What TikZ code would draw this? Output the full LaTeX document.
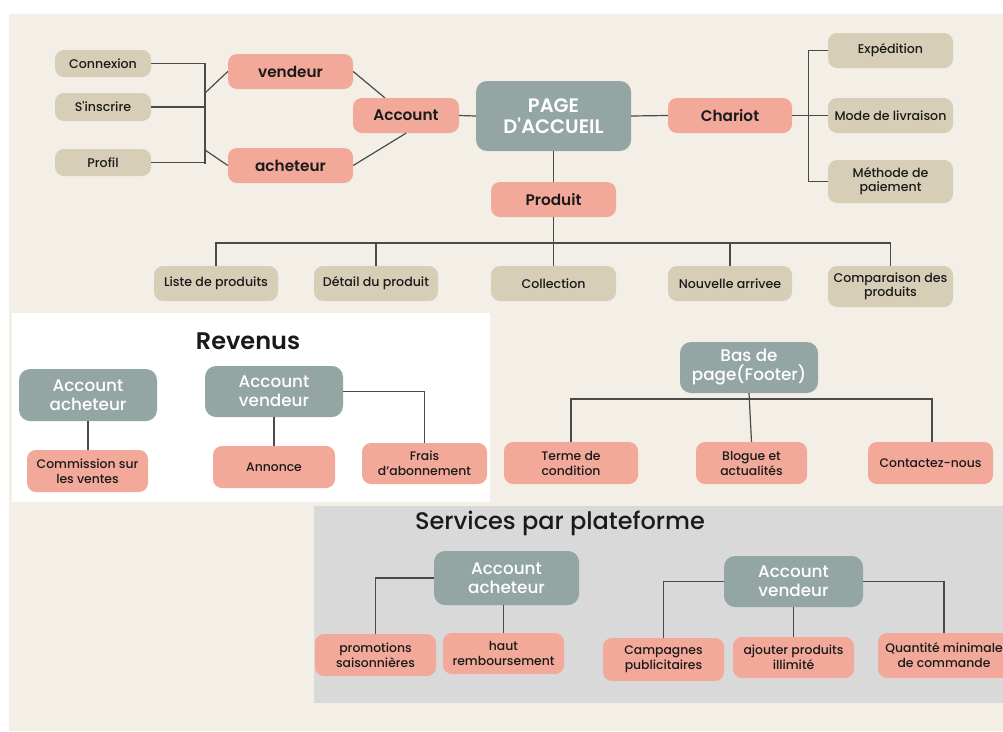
\documentclass[tikz,border=0pt]{standalone}
\usepackage{fontspec}
\setmainfont{Poppins}[UprightFont={* Medium}, BoldFont={* SemiBold}]
\newfontfamily\plainpop{Poppins}[UprightFont={* Medium}, BoldFont={* SemiBold}]
\definecolor{bgbeige}{HTML}{F3EFE7}
\definecolor{tanc}{HTML}{D6CEB6}
\definecolor{salmc}{HTML}{F2A99A}
\definecolor{tealc}{HTML}{94A6A4}
\definecolor{greyp}{HTML}{D9D9D9}
\definecolor{linec}{HTML}{4A4A4A}
\definecolor{txtc}{HTML}{1A1A1A}
\newcommand{\sq}{{\plainpop\char"0027}}
\tikzset{
  basebox/.style={inner sep=0pt, align=center, text=txtc, rounded corners=9pt},
  tanbox/.style={basebox, fill=tanc, font=\fontsize{12.6}{14}\selectfont},
  salbold/.style={basebox, fill=salmc, font=\fontsize{15.3}{18}\selectfont\bfseries},
  salbox/.style={basebox, fill=salmc, font=\fontsize{12.4}{15}\selectfont},
  tealbox/.style={basebox, fill=tealc, text=white, rounded corners=11pt, font=\fontsize{16.8}{19}\selectfont},
  titletext/.style={text=txtc, font=\fontsize{24}{26}\selectfont},
  conn/.style={draw=linec, line width=1.2pt},
}
\begin{document}
\begin{tikzpicture}[x=1pt,y=-1pt]
\useasboundingbox (0,0) rectangle (1003,731);
\clip (0,0) rectangle (1003,731);
\fill[white] (0,0) rectangle (1003,731);
\fill[bgbeige] (9,14) rectangle (1003,731);
\fill[white] (12,313) rectangle (490,502);
\fill[greyp] (314,506) rectangle (1010,703);

% top section
\node[tanbox, minimum width=96pt, minimum height=27pt] (cnx) at (103,63.5) {Connexion};
\node[tanbox, minimum width=96pt, minimum height=28pt] (ins) at (103,107) {S\sq inscrire};
\node[tanbox, minimum width=96pt, minimum height=27pt] (prof) at (103,162.5) {Profil};
\node[salbold, minimum width=125pt, minimum height=35pt] (vend) at (290.5,71.5) {vendeur};
\node[salbold, minimum width=125pt, minimum height=35pt] (ach) at (290.5,165.5) {acheteur};
\node[salbold, minimum width=106pt, minimum height=35pt] (acc) at (406,115.5) {Account};
\node[tealbox, font=\fontsize{19.5}{21}\selectfont\bfseries, minimum width=155pt, minimum height=70pt] (page) at (553.5,116) {PAGE\\D\sq ACCUEIL};
\node[salbold, minimum width=124pt, minimum height=35pt] (char) at (730,115.5) {Chariot};
\node[salbold, minimum width=125pt, minimum height=35pt] (prod) at (553.5,199.5) {Produit};
\node[tanbox, minimum width=125pt, minimum height=35pt] (exp) at (890.5,50.5) {Expédition};
\node[tanbox, minimum width=125pt, minimum height=35pt] (mode) at (890.5,115.5) {Mode de livraison};
\node[tanbox, minimum width=125pt, minimum height=43pt] (meth) at (890.5,181.5) {Méthode de\\paiement};
\node[tanbox, minimum width=124pt, minimum height=35pt] (liste) at (216,283.5) {Liste de produits};
\node[tanbox, minimum width=124pt, minimum height=35pt] (det) at (376,283.5) {Détail du produit};
\node[tanbox, minimum width=125pt, minimum height=35pt] (coll) at (553.5,283.5) {Collection};
\node[tanbox, minimum width=124pt, minimum height=35pt] (nouv) at (730,283.5) {Nouvelle arrivee};
\node[tanbox, minimum width=125pt, minimum height=41pt] (comp) at (890.5,286.5) {Comparaison des\\produits};

\coordinate (lb1) at (205,63.5);
\coordinate (lb2) at (205,163.5);
\coordinate (ld1) at (205,93);
\coordinate (ld2) at (205,150);
\coordinate (pbus) at (0,243);
\draw[conn] (cnx.east) -- (cnx.east -| lb1) -- (lb2);
\draw[conn] (ins.east) -- (ins.east -| lb1);
\draw[conn] (prof.east) -- (prof.east -| lb1);
\draw[conn] (ld1) -- (vend.west);
\draw[conn] (ld2) -- (ach.west);
\draw[conn] (vend.east) -- ([xshift=32pt]acc.north west);
\draw[conn] (acc.south) -- (ach.east);
\draw[conn] (acc.east) -- (page.west);
\draw[conn] (page.east) -- (char.west);
\draw[conn] (char.east) -- (mode.west);
\draw[conn] (exp.west) -- ++(-19,0) |- (meth.west);
\draw[conn] (page.south) -- (prod.north);
\draw[conn] (prod.south) -- (coll.north);
\draw[conn] (liste.north) -- (liste.north |- pbus) -- (comp.north |- pbus) -- (comp.north);
\draw[conn] (det.north) -- (det.north |- pbus);
\draw[conn] (nouv.north) -- (nouv.north |- pbus);

% Revenus
\node[titletext, font=\fontsize{24}{26}\selectfont\bfseries] (rtitle) at (248,341) {Revenus};
\node[tealbox, minimum width=138pt, minimum height=52pt] (racq) at (88,395) {Account\\acheteur};
\node[tealbox, minimum width=138pt, minimum height=51pt] (rvend) at (274,391.5) {Account\\vendeur};
\node[salbox, minimum width=121pt, minimum height=42pt] (comm) at (87.5,471) {Commission sur\\les ventes};
\node[salbox, minimum width=122pt, minimum height=42pt] (ann) at (274,467) {Annonce};
\node[salbox, minimum width=125pt, minimum height=41pt] (frais) at (424.5,463.5) {Frais\\d’abonnement};
\draw[conn] (racq.south) -- (racq.south |- comm.north);
\draw[conn] (rvend.south) -- (ann.north);
\draw[conn] (rvend.east) -| (frais.north);

% Footer
\node[tealbox, minimum width=138pt, minimum height=51pt] (bas) at (749,367.5) {Bas de\\page(Footer)};
\node[salbox, minimum width=134pt, minimum height=42pt] (terme) at (571,463) {Terme de\\condition};
\node[salbox, minimum width=111pt, minimum height=42pt] (blog) at (751.5,463) {Blogue et\\actualités};
\node[salbox, minimum width=125pt, minimum height=42pt] (cont) at (930.5,463) {Contactez-nous};
\coordinate (fbus) at (0,399);
\draw[conn] (bas.south) -- (blog.north);
\draw[conn] (terme.north) -- (terme.north |- fbus) -- ([xshift=1.5pt]cont.north |- fbus) -- ([xshift=1.5pt]cont.north);

% Services
\node[titletext] (stitle) at (560,523) {Services par plateforme};
\node[tealbox, minimum width=145pt, minimum height=54pt] (sach) at (506.5,578) {Account\\acheteur};
\node[salbox, minimum width=121pt, minimum height=42pt] (promo) at (375.5,655) {promotions\\saisonnières};
\node[salbox, minimum width=121pt, minimum height=41pt] (haut) at (503.5,653.5) {haut\\remboursement};
\node[tealbox, minimum width=139pt, minimum height=51pt] (svend) at (793.5,581.5) {Account\\vendeur};
\node[salbox, minimum width=121pt, minimum height=43pt] (camp) at (663.5,659.5) {Campagnes\\publicitaires};
\node[salbox, minimum width=121pt, minimum height=41pt] (ajout) at (793.5,657.5) {ajouter produits\\illimité};
\node[salbox, minimum width=132pt, minimum height=45pt] (quant) at (944,655.5) {Quantité minimale\\de commande};
\draw[conn] (sach.west) -| (promo.north);
\draw[conn] (haut.north |- sach.south) -- (haut.north);
\draw[conn] (svend.west) -| (camp.north);
\draw[conn] (svend.south) -- (ajout.north);
\draw[conn] (svend.east) -| (quant.north);
\end{tikzpicture}
\end{document}
